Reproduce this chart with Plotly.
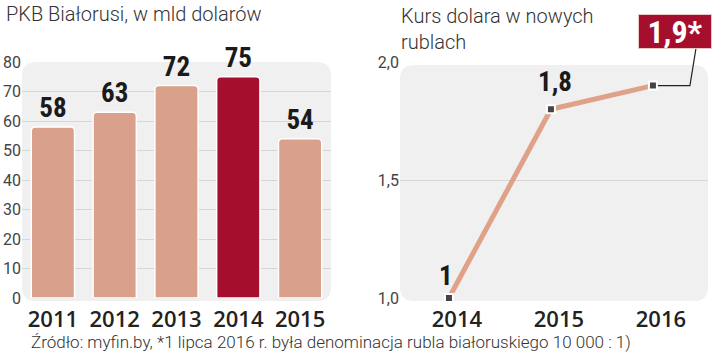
import plotly.graph_objects as go

# ---- data ----
pkb_years = ["2011", "2012", "2013", "2014", "2015"]
pkb_values = [58, 63, 72, 75, 54]
highlight_year = "2014"

kurs_years = [2014, 2015, 2016]
kurs_values = [1.0, 1.8, 1.9]
kurs_labels = ["1", "1,8", "1,9*"]

left_title = "PKB Białorusi, w mld dolarów"
right_title = "Kurs dolara w nowych<br>rublach"
source = "Źródło: myfin.by, *1 lipca 2016 r. była denominacja rubla białoruskiego 10 000 : 1)"

W, H = 720, 353
BAR = "#D9A08B"
DARK = "#A50E2D"
LINE = "#E0A189"
BG = "#F0F0F0"
GRID = "#D6D6D6"
COND = "Liberation Sans Narrow, Roboto Condensed, Roboto, sans-serif"
LIGHT = "Roboto, Lato, sans-serif"

PLOT_TOP, PLOT_BOTTOM = 62, 298
R_LEFT, R_RIGHT = 400, 708
X2_RANGE = [2013.52, 2016.54]
Y2_RANGE = [1.0, 2.0]

def px(x):
    return x / W

def py(y):
    return (H - y) / H

def x2_pixel(v):
    return R_LEFT + (v - X2_RANGE[0]) / (X2_RANGE[1] - X2_RANGE[0]) * (R_RIGHT - R_LEFT)

def y2_pixel(v):
    return PLOT_BOTTOM - (v - Y2_RANGE[0]) / (Y2_RANGE[1] - Y2_RANGE[0]) * (PLOT_BOTTOM - PLOT_TOP)

fig = go.Figure()

fig.add_trace(go.Bar(
    x=pkb_years, y=pkb_values,
    marker=dict(color=[DARK if y == highlight_year else BAR for y in pkb_years],
                line=dict(color="#FFFFFF", width=1.5), cornerradius=4),
    width=0.7,
    text=[str(v) for v in pkb_values], textposition="outside",
    textfont=dict(family=COND, size=27, color="#1a1a1a", weight="bold"),
    cliponaxis=False, xaxis="x", yaxis="y", showlegend=False,
))

fig.add_trace(go.Scatter(
    x=kurs_years, y=kurs_values, mode="lines+markers",
    line=dict(color=LINE, width=5),
    marker=dict(symbol="square", size=8, color="#444444", line=dict(color="#FFFFFF", width=2)),
    cliponaxis=False, xaxis="x2", yaxis="y2", showlegend=False,
))

# rounded background panels
def rounded(x0, y0, x1, y1, r):
    X0, X1 = px(x0), px(x1)
    Y0, Y1 = py(y1), py(y0)  # bottom, top in paper
    rx, ry = r / W, r / H
    return (f"M {X0+rx},{Y0} L {X1-rx},{Y0} Q {X1},{Y0} {X1},{Y0+ry} "
            f"L {X1},{Y1-ry} Q {X1},{Y1} {X1-rx},{Y1} L {X0+rx},{Y1} "
            f"Q {X0},{Y1} {X0},{Y1-ry} L {X0},{Y0+ry} Q {X0},{Y0} {X0+rx},{Y0} Z")

# connector from last point to the callout box (paper coordinates, derived from data)
cx, cy = x2_pixel(kurs_years[-1]), y2_pixel(kurs_values[-1])
conn_path = (f"M {px(cx)},{py(cy)} L {px(cx + 37)},{py(cy)} L {px(cx + 43)},{py(cy - 37)}")

shapes = [
    dict(type="path", xref="paper", yref="paper", path=rounded(22, 62, 331, 301, 14),
         fillcolor=BG, line=dict(width=0), layer="below"),
    dict(type="path", xref="paper", yref="paper", path=rounded(400, 65, 708, 301, 14),
         fillcolor=BG, line=dict(width=0), layer="below"),
    dict(type="path", xref="paper", yref="paper",
         path=conn_path, line=dict(color="#222222", width=1.2), layer="below"),
]

annotations = [
    dict(text=left_title, xref="paper", yref="paper", x=px(4), y=py(14), xanchor="left",
         yanchor="middle", showarrow=False, font=dict(family=LIGHT, size=20, color="#333333", weight=300)),
    dict(text=right_title, xref="paper", yref="paper", x=px(399), y=py(29), xanchor="left",
         yanchor="middle", align="left", showarrow=False,
         font=dict(family=LIGHT, size=20, color="#333333", weight=300)),
    dict(text=source, xref="paper", yref="paper", x=px(29), y=py(342), xanchor="left",
         yanchor="middle", showarrow=False, font=dict(family=LIGHT, size=17, color="#333333", weight=300)),
    dict(text="<b>" + kurs_labels[2] + "</b>", xref="x2", yref="y2", x=kurs_years[-1], y=kurs_values[-1],
         xanchor="center", yanchor="bottom", xshift=22, yshift=37, showarrow=False,
         font=dict(family=COND, size=32, color="#FFFFFF"), bgcolor=DARK,
         bordercolor="#E8C8C8", borderwidth=1, width=72, height=33, borderpad=0),
]
# point labels on line
label_offsets = [(-3, 22), (4, 27)]
for i, (dx, dy) in enumerate(label_offsets):
    annotations.append(dict(text="<b>" + kurs_labels[i] + "</b>", xref="x2", yref="y2",
                            x=kurs_years[i], y=kurs_values[i], xshift=dx, yshift=dy,
                            xanchor="center", yanchor="middle", showarrow=False,
                            font=dict(family=COND, size=27, color="#1a1a1a")))

fig.update_layout(
    width=W, height=H, margin=dict(l=0, r=0, t=0, b=0),
    paper_bgcolor="#FFFFFF", plot_bgcolor="rgba(0,0,0,0)",
    separators=", ", shapes=shapes, annotations=annotations, bargap=0.3,
    xaxis=dict(domain=[px(22), px(331)], type="category", range=[-0.5, 4.5], automargin=False,
               showgrid=False, zeroline=False, showline=False, ticks="", ticklabelstandoff=6,
               tickfont=dict(family="Open Sans", size=22, color="#222222", weight=600)),
    yaxis=dict(domain=[py(PLOT_BOTTOM), py(PLOT_TOP)], range=[0, 80], dtick=10, automargin=False,
               showgrid=True, gridcolor=GRID, gridwidth=1, zeroline=False, showline=False,
               ticks="", tickfont=dict(family=LIGHT, size=16, color="#444444")),
    xaxis2=dict(domain=[px(R_LEFT), px(R_RIGHT)], anchor="y2", range=X2_RANGE, automargin=False,
                tickvals=kurs_years, ticktext=[str(y) for y in kurs_years], ticklabelshift=8,
                ticklabelstandoff=6,
                showgrid=False, zeroline=False, showline=False, ticks="",
                tickfont=dict(family="Open Sans", size=22, color="#222222", weight=600)),
    yaxis2=dict(domain=[py(PLOT_BOTTOM), py(PLOT_TOP)], anchor="x2", range=Y2_RANGE, dtick=0.5,
                automargin=False, tickformat=".1f", showgrid=True, gridcolor=GRID, zeroline=False,
                showline=False, ticks="", tickfont=dict(family=LIGHT, size=16, color="#444444")),
)

fig.write_html("out.html")
